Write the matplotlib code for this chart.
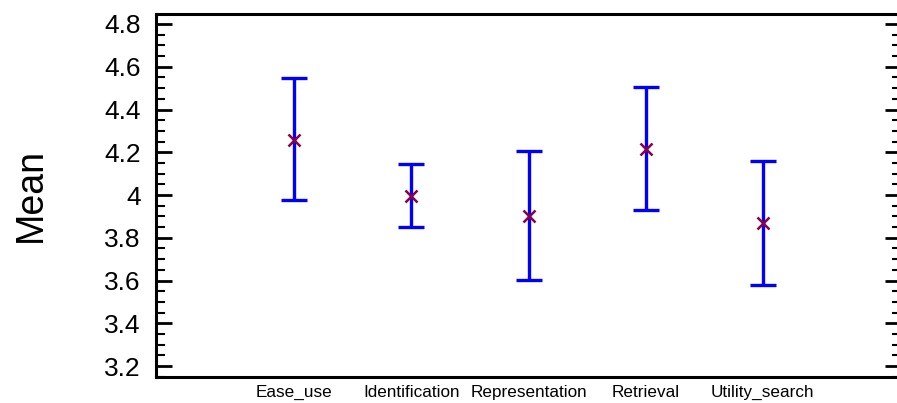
import numpy as np
import matplotlib.pyplot as plt
from matplotlib.ticker import MultipleLocator

categories = ["Ease_use", "Identification", "Representation", "Retrieval", "Utility_search"]
means = [4.257, 3.997, 3.904, 4.215, 3.868]
lower = [3.975, 3.852, 3.602, 3.928, 3.579]
upper = [4.549, 4.146, 4.207, 4.507, 4.158]
yticks = [3.2, 3.4, 3.6, 3.8, 4.0, 4.2, 4.4, 4.6, 4.8]
ytick_labels = ["3.2", "3.4", "3.6", "3.8", "4", "4.2", "4.4", "4.6", "4.8"]

plt.rcParams['font.family'] = ['Liberation Sans', 'DejaVu Sans']

fig = plt.figure(figsize=(8.97, 4.03), dpi=100)
# axes run a little past the right edge, like the cropped original
ax = fig.add_axes([156 / 897, 26 / 403, 745 / 897, 363.5 / 403])

x = np.arange(len(categories))
means = np.array(means)
err = [means - np.array(lower), np.array(upper) - means]

ax.errorbar(x, means, yerr=err, fmt='none', ecolor='#0000ff',
            elinewidth=2.4, capsize=9.5, capthick=2.4)
ax.plot(x, means, linestyle='none', marker='x', markersize=8.5,
        markeredgewidth=1.8, color='#8b0045')

ax.set_xlim(-1.18, 5.18)
ax.set_ylim(3.149, 4.849)
ax.set_xticks(x)
ax.set_xticklabels(categories, fontsize=12.3)
ax.set_yticks(yticks)
ax.set_yticklabels(ytick_labels, fontsize=19)
ax.yaxis.set_minor_locator(MultipleLocator(0.05))

ax.tick_params(axis='x', length=0, pad=5.5)
ax.tick_params(axis='y', which='major', direction='in', length=11.5, width=2,
               right=True, pad=11)
ax.tick_params(axis='y', which='minor', direction='in', length=6.5, width=1.5,
               right=True)

for s in ax.spines.values():
    s.set_linewidth(2.2)

ax.set_ylabel("Mean", fontsize=27, labelpad=40)

fig.savefig("out.png", dpi=100)
